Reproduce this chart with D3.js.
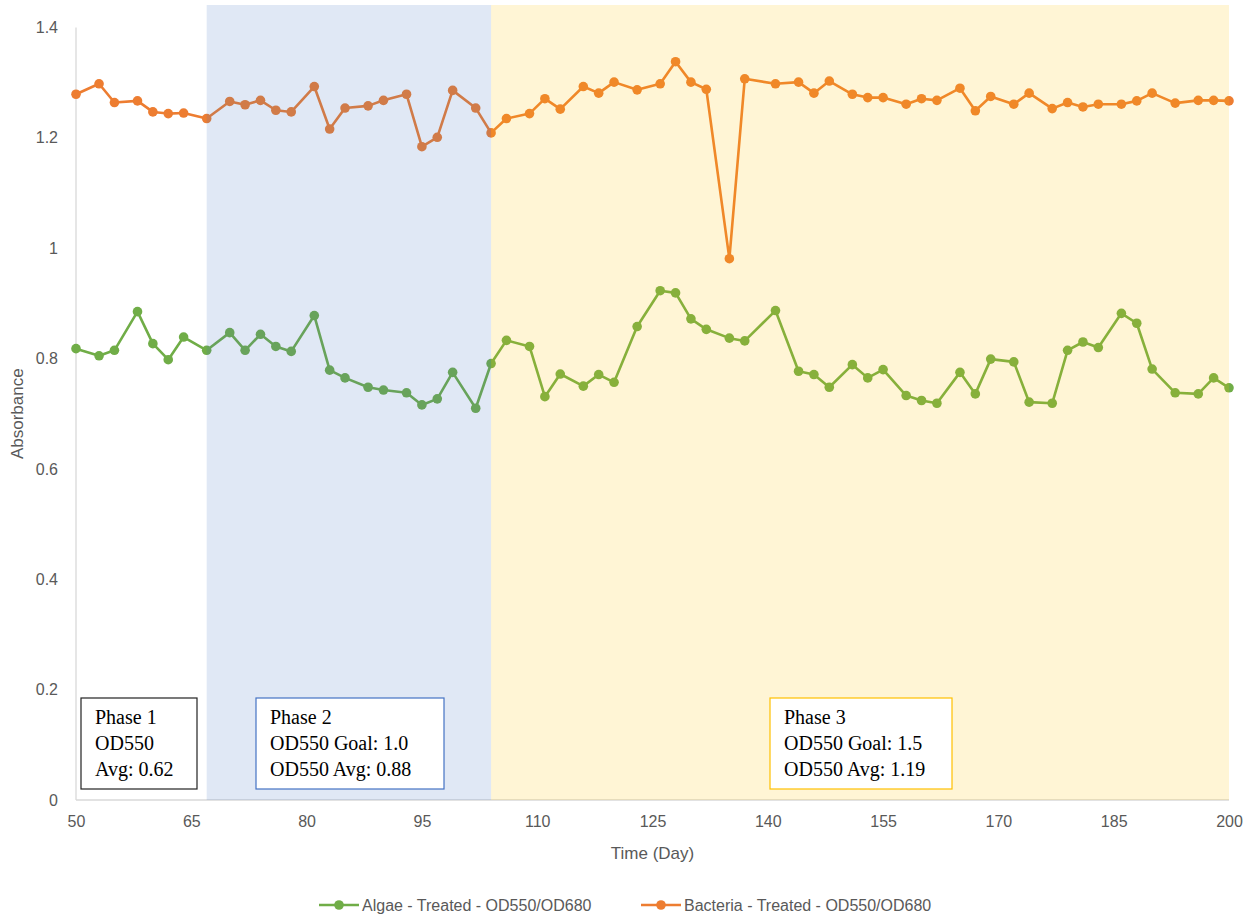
<!DOCTYPE html>
<html>
<head>
<meta charset="utf-8">
<script src="https://cdn.jsdelivr.net/npm/d3@7"></script>
<style>
  html, body { margin: 0; padding: 0; background: #fff; }
  svg { display: block; }
</style>
</head>
<body>
<svg id="chart" width="1259" height="918"></svg>
<script>
// ---- Data ----
const days = [50,53,55,58,60,62,64,67,70,72,74,76,78,81,83,85,88,90,93,95,97,99,102,104,
  106,109,111,113,116,118,120,123,126,128,130,132,135,137,141,144,146,148,151,153,155,
  158,160,162,165,167,169,172,174,177,179,181,183,186,188,190,193,196,198,200];

const algae = [0.818,0.805,0.815,0.885,0.827,0.798,0.839,0.815,0.847,0.815,0.844,0.822,0.813,0.878,
  0.779,0.765,0.748,0.743,0.738,0.716,0.727,0.775,0.710,0.791,
  0.833,0.822,0.731,0.772,0.750,0.771,0.757,0.858,0.923,0.919,0.872,0.853,0.837,0.832,0.887,
  0.777,0.771,0.748,0.789,0.765,0.780,
  0.733,0.724,0.719,0.775,0.736,0.799,0.794,0.721,0.719,0.815,0.830,0.820,0.882,0.864,0.781,
  0.738,0.736,0.765,0.747];

const bacteria = [1.279,1.298,1.264,1.267,1.247,1.244,1.245,1.235,1.266,1.260,1.268,1.250,1.247,1.293,
  1.216,1.254,1.258,1.268,1.279,1.184,1.201,1.286,1.254,1.209,
  1.235,1.244,1.271,1.252,1.293,1.281,1.301,1.287,1.298,1.338,1.301,1.288,0.981,1.307,1.298,
  1.301,1.281,1.303,1.279,1.273,1.273,
  1.261,1.271,1.268,1.290,1.249,1.275,1.261,1.281,1.253,1.264,1.256,1.261,1.261,1.267,1.281,
  1.263,1.268,1.268,1.267];

const seriesNames = ["Algae - Treated - OD550/OD680", "Bacteria - Treated - OD550/OD680"];
const xTicks = [50,65,80,95,110,125,140,155,170,185,200];
const yTicks = [0,0.2,0.4,0.6,0.8,1,1.2,1.4];
const phaseStart = [67, 104];
const phaseEnd = [104, 200];
const phaseNotes = [
  ["Phase 1", "OD550", "Avg: 0.62"],
  ["Phase 2", "OD550 Goal: 1.0", "OD550 Avg: 0.88"],
  ["Phase 3", "OD550 Goal: 1.5", "OD550 Avg: 1.19"]
];

// ---- Layout / style ----
const svg = d3.select("#chart");
const L = 76, R = 1229, T = 27.5, B = 800;
const x = d3.scaleLinear().domain([50, 200]).range([L, R]);
const y = d3.scaleLinear().domain([0, 1.4]).range([B, T]);
const colors = ["#70AD47", "#ED7D31"];
const bandColors = ["#4472C4", "#FFC000"];
const axisGray = "#D9D9D9";
const textGray = "#595959";
const sans = "'Liberation Sans', Arial, sans-serif";
const serif = "'Liberation Serif', 'Times New Roman', serif";

// axes lines
svg.append("line").attr("x1", L).attr("x2", L).attr("y1", T).attr("y2", B)
  .attr("stroke", axisGray).attr("stroke-width", 1.3);
svg.append("line").attr("x1", L).attr("x2", R).attr("y1", B).attr("y2", B)
  .attr("stroke", axisGray).attr("stroke-width", 1.3);

// y axis
const yAxis = d3.axisLeft(y).tickValues(yTicks).tickSize(0).tickPadding(18)
  .tickFormat(d => String(+d.toFixed(1)));
const gy = svg.append("g").attr("transform", `translate(${L},0)`).call(yAxis);
gy.select(".domain").remove();
gy.selectAll("text").attr("fill", textGray).style("font-family", sans).style("font-size", "16px");

// x axis
const xAxis = d3.axisBottom(x).tickValues(xTicks).tickSize(0).tickPadding(16)
  .tickFormat(d3.format("d"));
const gx = svg.append("g").attr("transform", `translate(0,${B})`).call(xAxis);
gx.select(".domain").remove();
gx.selectAll("text").attr("fill", textGray).style("font-family", sans).style("font-size", "16px");

// axis titles
svg.append("text").attr("x", (L + R) / 2).attr("y", 859)
  .attr("text-anchor", "middle").attr("fill", textGray)
  .style("font-family", sans).style("font-size", "17px").text("Time (Day)");
svg.append("text").attr("transform", `translate(23,${(T + B) / 2}) rotate(-90)`)
  .attr("text-anchor", "middle").attr("fill", textGray)
  .style("font-family", sans).style("font-size", "17px").text("Absorbance");

// series
const seriesData = [algae, bacteria];
const line = d3.line().x(d => x(d[0])).y(d => y(d[1]));
seriesData.forEach((vals, i) => {
  const pts = days.map((d, k) => [d, vals[k]]);
  svg.append("path").datum(pts).attr("d", line)
    .attr("fill", "none").attr("stroke", colors[i]).attr("stroke-width", 2.6)
    .attr("stroke-linejoin", "round");
  svg.append("g").selectAll("circle").data(pts).join("circle")
    .attr("cx", d => x(d[0])).attr("cy", d => y(d[1])).attr("r", 4.8)
    .attr("fill", colors[i]);
});

// phase bands (semi-transparent overlays)
phaseStart.forEach((s, i) => {
  svg.append("rect").attr("x", x(s)).attr("y", 5)
    .attr("width", x(phaseEnd[i]) - x(s)).attr("height", B - 5)
    .attr("fill", bandColors[i]).attr("fill-opacity", 0.165);
});

// phase note boxes
const boxBorders = ["#222222", "#4472C4", "#FFC000"];
const boxX = [81, 256, 770];
const boxW = [116, 188, 182];
phaseNotes.forEach((lines, i) => {
  svg.append("rect").attr("x", boxX[i]).attr("y", 698)
    .attr("width", boxW[i]).attr("height", 91)
    .attr("fill", "#fff").attr("stroke", boxBorders[i]).attr("stroke-width", 1.2);
  lines.forEach((t, j) => {
    svg.append("text").attr("x", boxX[i] + 14).attr("y", 724 + j * 26)
      .attr("fill", "#000").style("font-family", serif).style("font-size", "20px").text(t);
  });
});

// legend
const legendLineX = [319, 641];
const legendY = 905;
seriesNames.forEach((name, i) => {
  const g = svg.append("g");
  g.append("line").attr("x1", legendLineX[i]).attr("x2", legendLineX[i] + 40)
    .attr("y1", legendY).attr("y2", legendY)
    .attr("stroke", colors[i]).attr("stroke-width", 2.6);
  g.append("circle").attr("cx", legendLineX[i] + 20).attr("cy", legendY).attr("r", 4.8)
    .attr("fill", colors[i]);
  g.append("text").attr("x", legendLineX[i] + 43).attr("y", legendY + 5.5)
    .attr("fill", textGray).style("font-family", sans).style("font-size", "16px").text(name);
});
</script>
</body>
</html>
